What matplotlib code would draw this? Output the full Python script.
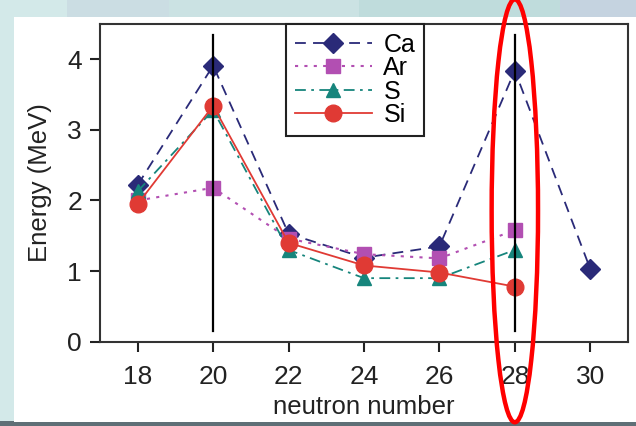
import matplotlib
matplotlib.use("Agg")
import matplotlib.pyplot as plt
from matplotlib.patches import Rectangle, Ellipse

plt.rcParams['font.family'] = ['Liberation Sans', 'DejaVu Sans']

# neutron numbers and 2+ excitation energies (MeV)
n_ca = [18, 20, 22, 24, 26, 28, 30]
e_ca = [2.22, 3.91, 1.53, 1.19, 1.35, 3.84, 1.03]
n_ar = [18, 20, 22, 24, 26, 28]
e_ar = [2.00, 2.18, 1.46, 1.24, 1.18, 1.58]
n_s = [18, 20, 22, 24, 26, 28]
e_s = [2.13, 3.28, 1.30, 0.90, 0.90, 1.30]
n_si = [18, 20, 22, 24, 26, 28]
e_si = [1.95, 3.34, 1.40, 1.08, 0.98, 0.78]

shell_closures = [20, 28]
xticks = [18, 20, 22, 24, 26, 28, 30]
yticks = [0, 1, 2, 3, 4]

fig = plt.figure(figsize=(6.36, 4.26), dpi=100)
fig.patch.set_facecolor('#cde3e5')

# tiled slide background behind the white panel
for x0, w, c in [(0.0, 0.105, '#d3e9e9'), (0.105, 0.16, '#cbdde3'),
                 (0.265, 0.30, '#cbe2e3'), (0.565, 0.315, '#bfdcdc'),
                 (0.88, 0.12, '#c5d3e0')]:
    fig.add_artist(Rectangle((x0, 0), w, 1, transform=fig.transFigure,
                             facecolor=c, edgecolor='none', zorder=-3))
fig.add_artist(Rectangle((0, 0), 1, 0.012, transform=fig.transFigure,
                         facecolor='#5f6f76', edgecolor='none', zorder=-2))
fig.add_artist(Rectangle((0.022, 0.01), 0.978, 0.95, transform=fig.transFigure,
                         facecolor='white', edgecolor='none', zorder=-1))

ax = fig.add_axes([0.1572, 0.1979, 0.8302, 0.7458])
ax.set_facecolor('white')

ax.plot(n_ca, e_ca, linestyle=(0, (6, 4)), color='#2a2a78', lw=1.3,
        marker='D', markersize=10, label='Ca', zorder=3)
ax.plot(n_ar, e_ar, linestyle=(0, (1.5, 3)), color='#b24fb2', lw=1.5,
        marker='s', markersize=10, label='Ar', zorder=3)
ax.plot(n_s, e_s, linestyle=(0, (6, 3, 1.5, 3)), color='#16857c', lw=1.3,
        marker='^', markersize=10, label='S', zorder=3)
ax.plot(n_si, e_si, linestyle='-', color='#e03a34', lw=1.3,
        marker='o', markersize=12, label='Si', zorder=4)

for n in shell_closures:
    ax.plot([n, n], [0.15, 4.35], color='black', lw=1.6, zorder=5)

ax.set_xlim(17, 31)
ax.set_ylim(0, 4.5)
ax.set_xticks(xticks)
ax.set_yticks(yticks)
ax.tick_params(labelsize=19, length=7, width=1.5, colors='#222222')
ax.tick_params(axis='x', pad=10)
ax.tick_params(axis='y', pad=6)
for s in ax.spines.values():
    s.set_linewidth(1.5)
    s.set_color('#333333')

ax.set_xlabel('neutron number', fontsize=18.5, color='#222222', labelpad=4)
ax.set_ylabel('Energy (MeV)', fontsize=18.5, color='#222222', labelpad=11)

leg = ax.legend(loc='upper left', bbox_to_anchor=(0.352, 1.0), fontsize=18,
                handlelength=3.1, handletextpad=0.45, labelspacing=-0.02,
                borderpad=0.35, borderaxespad=0, fancybox=False, framealpha=1)
leg.get_frame().set_edgecolor('#222222')
leg.get_frame().set_linewidth(1.5)

# highlight around N = 28
ax.add_patch(Ellipse((28, 1.854), 1.23, 5.99, fill=False, edgecolor='#ff0000',
                     lw=3.2, clip_on=False, zorder=10))

fig.savefig('out.png', dpi=100)
